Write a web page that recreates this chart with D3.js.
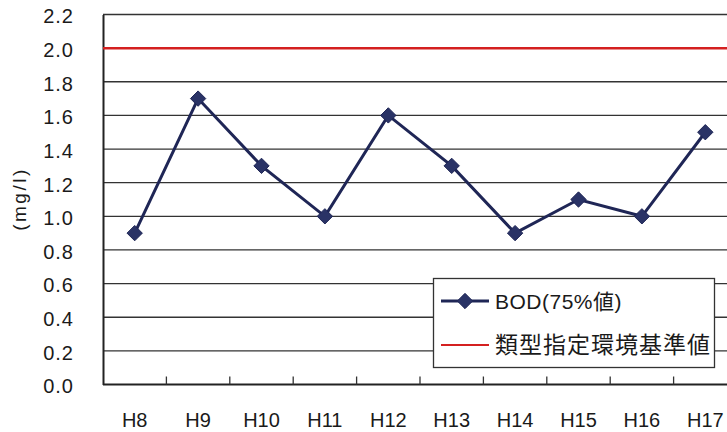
<!DOCTYPE html>
<html>
<head>
<meta charset="utf-8">
<script src="https://cdn.jsdelivr.net/npm/d3@7/dist/d3.min.js"></script>
<style>
  html, body { margin: 0; padding: 0; background: #fff; }
  svg { display: block; }
  text { font-family: "Liberation Sans", Arial, sans-serif; fill: #1a1a1a; }
</style>
</head>
<body>
<svg id="chart" width="727" height="432"></svg>
<script>
// BOD annual 75% values by fiscal year
const years = ["H8", "H9", "H10", "H11", "H12", "H13", "H14", "H15", "H16", "H17"];
const bodValues = [0.9, 1.7, 1.3, 1.0, 1.6, 1.3, 0.9, 1.1, 1.0, 1.5];
// Environmental standard for the water-type designation
const standardValue = 2.0;
const yTicks = [0.0, 0.2, 0.4, 0.6, 0.8, 1.0, 1.2, 1.4, 1.6, 1.8, 2.0, 2.2];
const legendLabels = ["BOD(75%値)", "類型指定環境基準値"];

const svg = d3.select("#chart");
const margin = { left: 103, top: 14.5, right: 737, bottom: 384.5 };

const x = d3.scaleBand().domain(years).range([margin.left, margin.right]);
const y = d3.scaleLinear().domain([0, 2.2]).range([margin.bottom, margin.top]);

const navy = "#1f2656";
const red = "#d42020";

// horizontal gridlines
svg.append("g")
  .selectAll("line")
  .data(yTicks.slice(1))
  .join("line")
  .attr("x1", margin.left).attr("x2", margin.right)
  .attr("y1", d => y(d)).attr("y2", d => y(d))
  .attr("stroke", "#333").attr("stroke-width", 1.3);

// y axis
const yAxis = svg.append("g")
  .attr("transform", `translate(${margin.left},0)`)
  .call(d3.axisLeft(y).tickValues(yTicks).tickFormat(d3.format(".1f")).tickSize(0).tickPadding(29));
yAxis.select(".domain").attr("stroke", "#222").attr("stroke-width", 2);
yAxis.selectAll("text").attr("font-size", 20).attr("dy", "0.42em")
  .style("font-family", "'Liberation Sans', Arial, sans-serif")
  .style("letter-spacing", "1px")
  .attr("fill", "#1a1a1a");

// x axis with tick marks between categories
const xAxisG = svg.append("g").attr("transform", `translate(0,${margin.bottom})`);
xAxisG.append("line")
  .attr("x1", margin.left).attr("x2", margin.right)
  .attr("y1", 0).attr("y2", 0)
  .attr("stroke", "#222").attr("stroke-width", 2);
xAxisG.selectAll("line.tick")
  .data(years.slice(1))
  .join("line")
  .attr("class", "tick")
  .attr("x1", d => x(d)).attr("x2", d => x(d))
  .attr("y1", 0).attr("y2", -8)
  .attr("stroke", "#333").attr("stroke-width", 1.3);
xAxisG.selectAll("text")
  .data(years)
  .join("text")
  .attr("x", d => x(d) + x.bandwidth() / 2)
  .attr("y", 42.5)
  .attr("text-anchor", "middle")
  .attr("font-size", 20)
  .text(d => d);

// y axis unit label
svg.append("text")
  .attr("transform", "translate(19,199) rotate(-90)")
  .attr("text-anchor", "middle")
  .attr("dy", "0.35em")
  .attr("font-size", 19)
  .style("letter-spacing", "2.5px")
  .text("(mg/l)");

// standard line
svg.append("line")
  .attr("x1", margin.left).attr("x2", margin.right)
  .attr("y1", y(standardValue)).attr("y2", y(standardValue))
  .attr("stroke", red).attr("stroke-width", 2.5);

// BOD series
const cx = (d, i) => x(years[i]) + x.bandwidth() / 2;
const line = d3.line().x(cx).y(d => y(d));
svg.append("path")
  .datum(bodValues)
  .attr("d", line)
  .attr("fill", "none")
  .attr("stroke", navy)
  .attr("stroke-width", 3)
  .attr("stroke-linejoin", "miter");

const diamond = d3.symbol().type(d3.symbolDiamond2).size(150);
svg.append("g")
  .selectAll("path")
  .data(bodValues)
  .join("path")
  .attr("transform", (d, i) => `translate(${cx(d, i)},${y(d)})`)
  .attr("d", diamond)
  .attr("fill", "#2a3366")
  .attr("stroke", navy)
  .attr("stroke-width", 1);

// legend
const lg = svg.append("g");
lg.append("rect")
  .attr("x", 433.5).attr("y", 278.5)
  .attr("width", 281).attr("height", 89)
  .attr("fill", "#fff").attr("stroke", "#333").attr("stroke-width", 1.3);
lg.append("line")
  .attr("x1", 441).attr("x2", 489).attr("y1", 301).attr("y2", 301)
  .attr("stroke", navy).attr("stroke-width", 3);
lg.append("path")
  .attr("transform", "translate(465,301)")
  .attr("d", diamond)
  .attr("fill", "#2a3366").attr("stroke", navy);
lg.append("line")
  .attr("x1", 441).attr("x2", 489).attr("y1", 345).attr("y2", 345)
  .attr("stroke", red).attr("stroke-width", 1.8);
lg.selectAll("text.lbl")
  .data(legendLabels)
  .join("text")
  .attr("class", "lbl")
  .attr("x", 495)
  .attr("y", (d, i) => 301 + i * 44)
  .attr("dy", "0.36em")
  .attr("font-size", (d, i) => i === 1 ? 23 : 21)
  .style("font-family", "'Liberation Sans', 'Noto Sans CJK JP', sans-serif")
  .style("letter-spacing", (d, i) => i === 1 ? "1px" : "0.5px")
  .text(d => d);
</script>
</body>
</html>
